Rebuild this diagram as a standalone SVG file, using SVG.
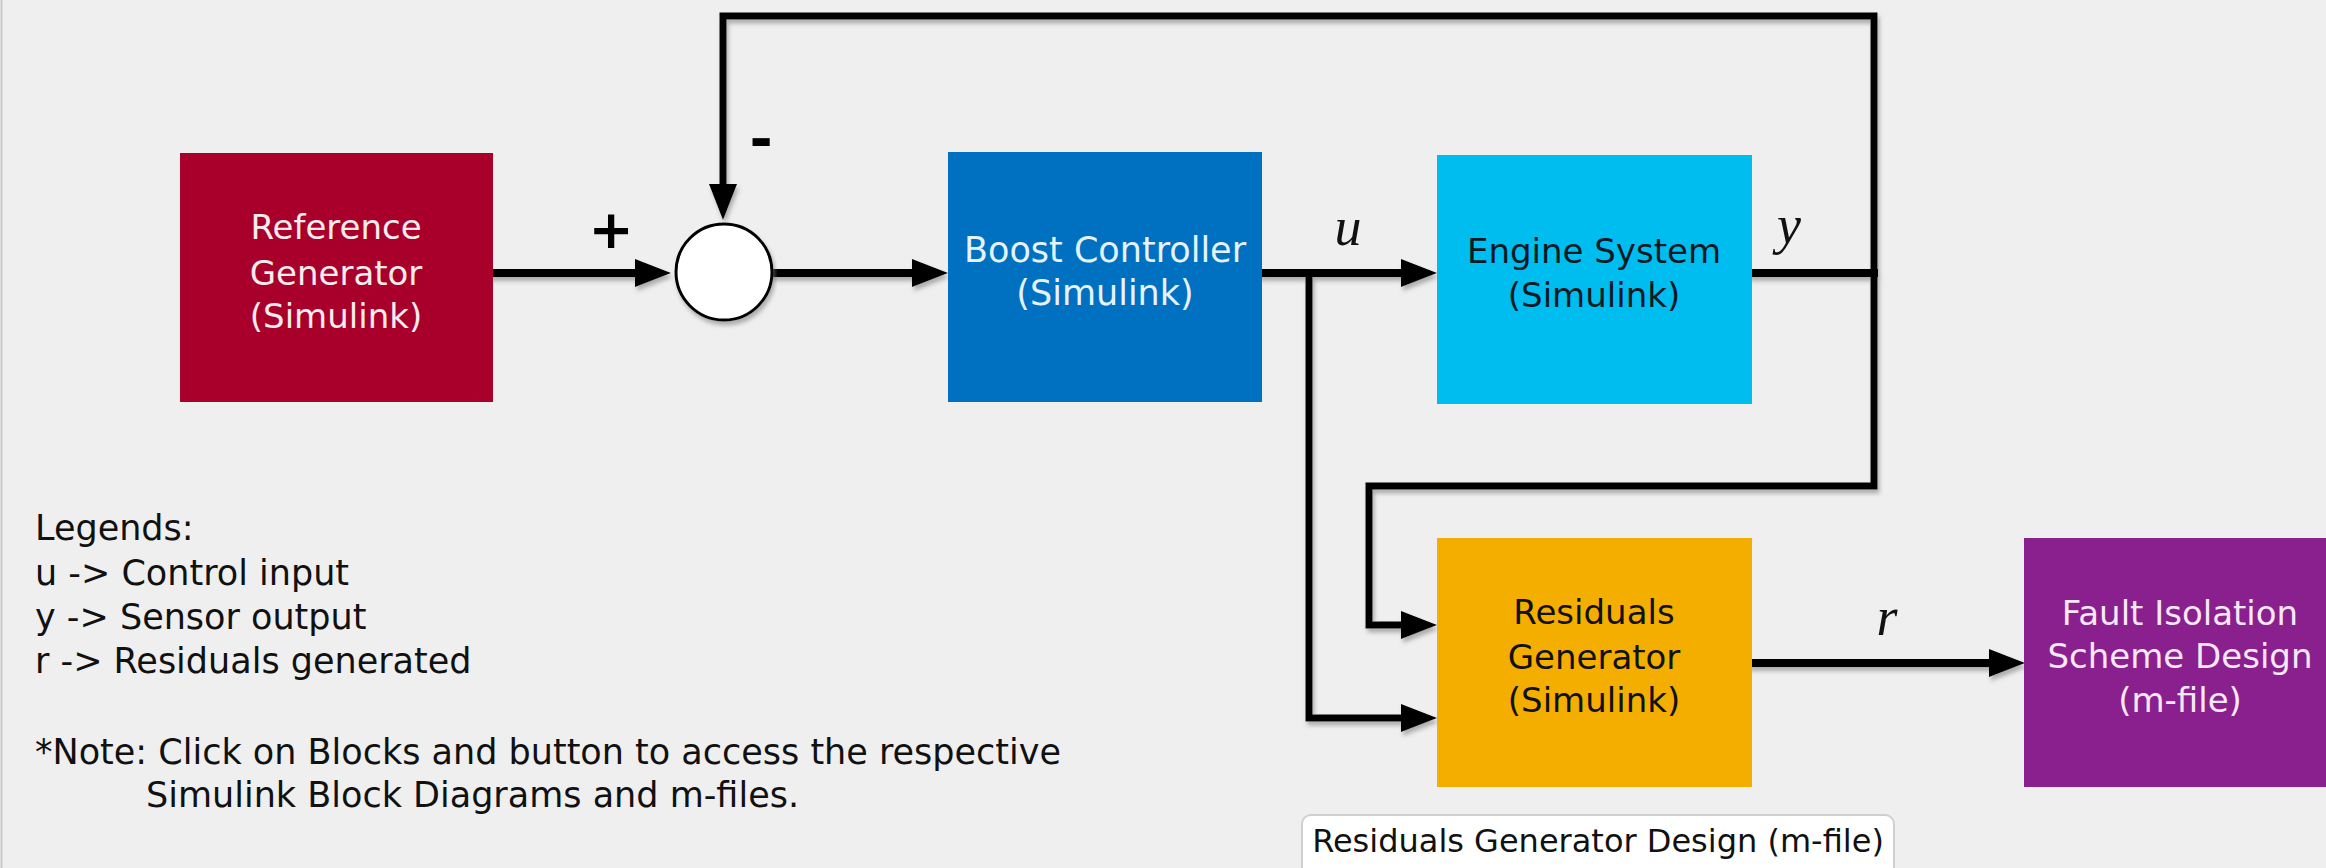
<svg xmlns="http://www.w3.org/2000/svg" width="2326" height="868" viewBox="0 0 2326 868">
<style>
.box-text{font-family:"DejaVu Sans",sans-serif;font-size:34px;text-anchor:middle}
.legend{font-family:"DejaVu Sans",sans-serif;font-size:35px;fill:#111}
.math{font-family:"Liberation Serif","DejaVu Serif",serif;font-style:italic;font-size:54px;fill:#111;text-anchor:middle}
.wire{fill:none;stroke:#000;stroke-width:7;stroke-linejoin:miter;stroke-linecap:square}
.main{stroke-width:8}
.arr{marker-end:url(#ah)}
</style>
<defs>
<marker id="ah" markerUnits="userSpaceOnUse" markerWidth="40" markerHeight="30" refX="4" refY="14" orient="auto">
<path d="M0,0 L36,14 L0,28 Z" fill="#000"/>
</marker>
<filter id="sh" x="-5%" y="-5%" width="110%" height="120%">
<feDropShadow dx="2" dy="4" stdDeviation="2" flood-color="#777" flood-opacity="0.55"/>
</filter>
</defs>
<rect x="0" y="0" width="2326" height="868" fill="#efefef"/>
<line x1="1.5" y1="0" x2="1.5" y2="868" stroke="#c9c9c9" stroke-width="2"/>

<g id="connectors" filter="url(#sh)">
<path class="wire main arr" d="M493 273 H639"/>
<path class="wire main arr" d="M773 273 H916"/>
<path class="wire main arr" d="M1262 273 H1405"/>
<path class="wire arr" d="M1309 273 V718 H1405"/>
<path class="wire main" d="M1752 273 H1874"/>
<path class="wire arr" d="M1874 273 V16 H723 V188"/>
<path class="wire arr" d="M1874 273 V486 H1369 V625 H1405"/>
<path class="wire main arr" d="M1752 663 H1993"/>
</g>

<g id="reference-generator">
<rect x="180" y="153" width="313" height="249" fill="#a8002a"/>
<text class="box-text" fill="#f4ecee"><tspan x="336" y="239">Reference</tspan><tspan x="336" y="285">Generator</tspan><tspan x="336" y="328">(Simulink)</tspan></text>
</g>

<g id="sum" filter="url(#sh)">
<circle cx="724" cy="272" r="48" fill="#fff" stroke="#000" stroke-width="3"/>
</g>
<text id="plus-sign" x="611" y="248" font-family="DejaVu Sans,sans-serif" font-weight="bold" font-size="54" text-anchor="middle" fill="#000">+</text>
<text id="minus-sign" x="761" y="158" font-family="DejaVu Sans,sans-serif" font-weight="bold" font-size="56" text-anchor="middle" fill="#000">-</text>

<g id="boost-controller">
<rect x="948" y="152" width="314" height="250" fill="#0070c0"/>
<text class="box-text" fill="#e6f3ff" style="font-size:35px"><tspan x="1105" y="262">Boost Controller</tspan><tspan x="1105" y="305">(Simulink)</tspan></text>
</g>

<g id="engine-system">
<rect x="1437" y="155" width="315" height="249" fill="#00bdef"/>
<text class="box-text" fill="#0a1a24"><tspan x="1594" y="263">Engine System</tspan><tspan x="1594" y="307">(Simulink)</tspan></text>
</g>

<g id="residuals-generator">
<rect x="1437" y="538" width="315" height="249" fill="#f4ae00"/>
<text class="box-text" fill="#111"><tspan x="1594" y="624">Residuals</tspan><tspan x="1594" y="669">Generator</tspan><tspan x="1594" y="712">(Simulink)</tspan></text>
</g>

<g id="fault-isolation">
<rect x="2024" y="538" width="316" height="249" fill="#8a1f8e"/>
<text class="box-text" fill="#f7e8f7"><tspan x="2180" y="625">Fault Isolation</tspan><tspan x="2180" y="668">Scheme Design</tspan><tspan x="2180" y="712">(m-file)</tspan></text>
</g>

<g id="labels">
<text class="math" x="1348" y="245">u</text>
<text class="math" x="1789" y="243">y</text>
<text class="math" x="1887" y="635">r</text>
</g>

<g id="legend">
<text class="legend" x="35" y="540">Legends:</text>
<text class="legend" x="35" y="585">u -&gt; Control input</text>
<text class="legend" x="35" y="629">y -&gt; Sensor output</text>
<text class="legend" x="35" y="673">r -&gt; Residuals generated</text>
<text class="legend" x="35" y="764">*Note: Click on Blocks and button to access the respective</text>
<text class="legend" x="146" y="807">Simulink Block Diagrams and m-files.</text>
</g>

<g id="design-button">
<rect x="1302" y="815" width="592" height="70" rx="9" fill="#fff" stroke="#cfcfcf" stroke-width="2"/>
<text x="1598" y="852" font-family="DejaVu Sans,sans-serif" font-size="32" text-anchor="middle" fill="#111">Residuals Generator Design (m-file)</text>
</g>
</svg>
